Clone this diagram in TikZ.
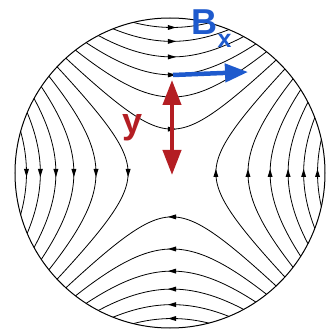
\documentclass[tikz,border=0pt]{standalone}
\usepackage{fontspec}
\setmainfont{Liberation Sans}
\usetikzlibrary{arrows.meta}
\definecolor{bblue}{RGB}{30,90,205}
\definecolor{yred}{RGB}{180,30,35}
\begin{document}
\begin{tikzpicture}[x=1pt,y=1pt,
  fl/.style={line width=0.8pt},
  lbl/.style={inner sep=0pt, anchor=base west, font=\bfseries\fontsize{36}{40}\selectfont},
  sublbl/.style={inner sep=0pt, anchor=base west, font=\bfseries\fontsize{25}{28}\selectfont}]
\useasboundingbox (-172,-156) rectangle (153,173);
\begin{scope}
\clip (-2,0) circle (155);
\foreach \k in {1,...,6}{
  \pgfmathsetmacro\ha{10*sqrt(38.5*(\k-0.5))}
  \pgfmathsetmacro\hz{289/(38.5*(\k-0.5))}
  \pgfmathsetmacro\htm{ln(\hz+sqrt(\hz*\hz-1))/2}
  \draw[fl] plot[domain=-\htm:\htm, samples=60, smooth, variable=\u] ({\ha*sinh(\u)},{\ha*cosh(\u)});
  \draw[fl] plot[domain=-\htm:\htm, samples=60, smooth, variable=\u] ({\ha*sinh(\u)},{-\ha*cosh(\u)});
  \draw[fl] plot[domain=-\htm:\htm, samples=60, smooth, variable=\u] ({-\ha*cosh(\u)},{\ha*sinh(\u)});
  \draw[fl] plot[domain=-\htm:\htm, samples=60, smooth, variable=\u] ({\ha*cosh(\u)},{\ha*sinh(\u)});
  \fill (4,\ha) -- (-4,\ha+2.5) -- (-4,\ha-2.5) -- cycle;
  \fill (-4,-\ha) -- (4,-\ha+2.5) -- (4,-\ha-2.5) -- cycle;
  \fill (-\ha,-4) -- (-\ha+2.5,4) -- (-\ha-2.5,4) -- cycle;
  \fill (\ha,4) -- (\ha+2.5,-4) -- (\ha-2.5,-4) -- cycle;
}
\end{scope}
\draw[line width=1pt] (-2,0) circle (155);
\coordinate (ytop) at (0,93);
\coordinate (ybot) at (0,-2);
\draw[yred, line width=4pt, {Triangle[length=25pt,width=18pt]}-{Triangle[length=25pt,width=18pt]}] (ytop) -- (ybot);
\coordinate (bstart) at (1,98);
\coordinate (bend) at (76,101);
\draw[bblue, line width=4.5pt, -{Triangle[length=23pt,width=18pt]}] (bstart) -- (bend);
\node[lbl, text=bblue] (B) at (19,138) {B};
\node[sublbl, text=bblue] (Bx) at (45.5,125) {x};
\node[lbl, text=yred] (ylab) at (-49.5,39.5) {y};
\end{tikzpicture}
\end{document}
